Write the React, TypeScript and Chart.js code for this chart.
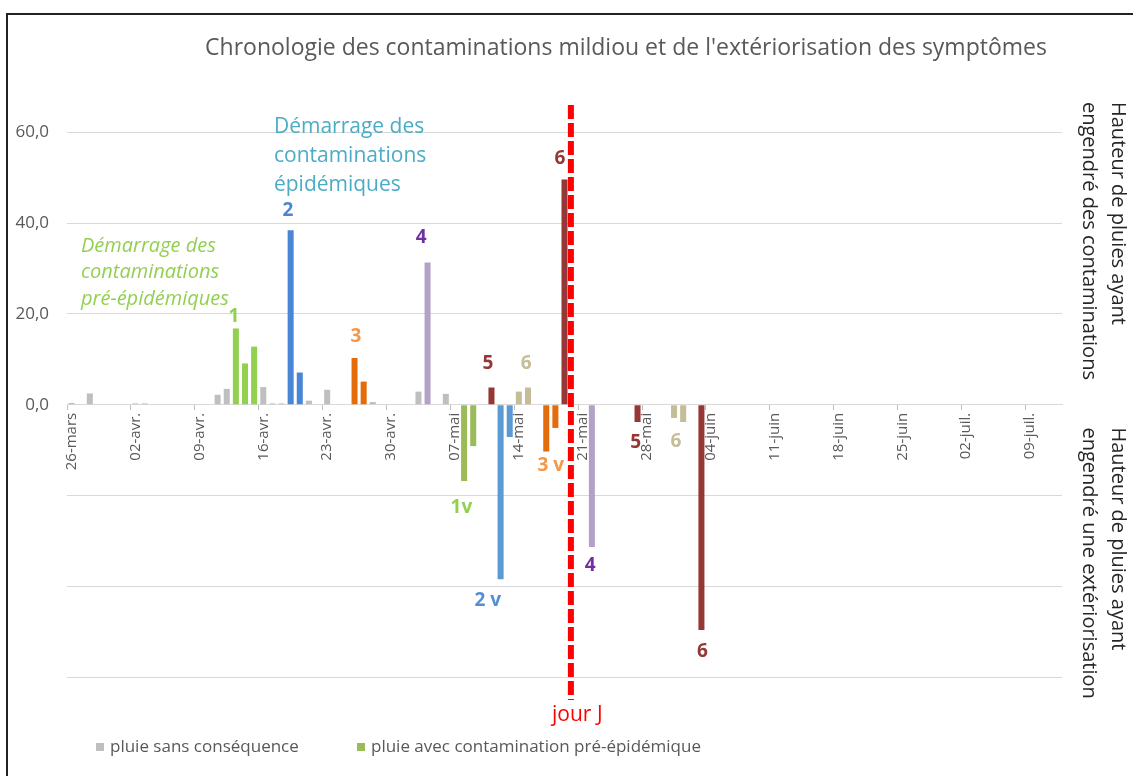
import React, { useEffect, useRef } from 'react';
import { Chart, registerables } from 'chart.js';

Chart.register(...registerables);

// ---------- categories (days from 26 March to 12 July) ----------
const monthNames = ['mars', 'avr.', 'mai', 'juin', 'juil.'];
const monthLengths = [31, 30, 31, 30, 31];
const firstDay = 26;
const dayCount = 109;

function buildCategories(): string[] {
  const out: string[] = [];
  let m = 0;
  let d = firstDay;
  for (let i = 0; i < dayCount; i++) {
    out.push(String(d).padStart(2, '0') + '-' + monthNames[m]);
    d++;
    if (d > monthLengths[m]) {
      d = 1;
      m++;
    }
  }
  return out;
}
const categories = buildCategories();

// ---------- series (rain height, mm) ----------
const grayDates = ['26-mars', '28-mars', '02-avr.', '03-avr.', '11-avr.', '12-avr.', '16-avr.', '17-avr.', '18-avr.', '21-avr.', '23-avr.', '28-avr.', '03-mai', '06-mai'];
const grayValues = [0.4, 2.5, 0.3, 0.3, 2.2, 3.5, 3.9, 0.3, 0.3, 0.9, 3.3, 0.6, 2.9, 2.4];

const green1Dates = ['13-avr.', '14-avr.', '15-avr.'];
const green1Values = [16.8, 9.1, 12.8];
const blue2Dates = ['19-avr.', '20-avr.'];
const blue2Values = [38.4, 7.1];
const orange3Dates = ['26-avr.', '27-avr.'];
const orange3Values = [10.3, 5.1];
const purple4Dates = ['04-mai'];
const purple4Values = [31.3];
const red5Dates = ['11-mai'];
const red5Values = [3.8];
const tan6Dates = ['14-mai', '15-mai'];
const tan6Values = [2.9, 3.8];
const red6Dates = ['19-mai'];
const red6Values = [49.6];

// extériorisation (negative side)
const green1vDates = ['08-mai', '09-mai'];
const green1vValues = [-16.8, -9.1];
const blue2vDates = ['12-mai', '13-mai'];
const blue2vValues = [-38.4, -7.1];
const orange3vDates = ['17-mai', '18-mai'];
const orange3vValues = [-10.3, -5.1];
const purple4vDates = ['22-mai'];
const purple4vValues = [-31.3];
const red5vDates = ['27-mai'];
const red5vValues = [-3.8];
const tan6vDates = ['31-mai', '01-juin'];
const tan6vValues = [-2.9, -3.8];
const red6vDates = ['03-juin'];
const red6vValues = [-49.6];

// ---------- annotations ----------
const markerTexts = ['1', '2', '3', '4', '5', '6', '6', '1v', '2 v', '3 v', '4', '5', '6', '6'];
const markerIndex = [17.8, 23.7, 31.15, 38.3, 45.6, 49.8, 53.5, 42.7, 45.6, 52.5, 56.8, 61.8, 66.2, 69.1];
const markerValue = [19.4, 42.7, 15.0, 36.8, 9.1, 9.1, 54.1, -22.7, -43.2, -13.5, -35.5, -8.4, -8.2, -54.3];
const markerColors = ['#92d050', '#4a86d6', '#f79646', '#7030a0', '#953735', '#c4bd97', '#953735', '#92d050', '#558ed5', '#f79646', '#7030a0', '#953735', '#c4bd97', '#953735'];

const preEpiLines = ['Démarrage des', 'contaminations', 'pré-épidémiques'];
const preEpiIndex = 1.03;
const preEpiValues = [34.85, 29.1, 23.2];
const epiLines = ['Démarrage des', 'contaminations', 'épidémiques'];
const epiIndex = 22.17;
const epiValues = [61.1, 54.7, 48.3];

const jourJIndex = 54.7;
const jourJLabelIndex = 55.4;
const jourJLabelValue = -68.2;

const titleText = "Chronologie des contaminations mildiou et de l'extériorisation des symptômes";
const rightTitleTop = ['Hauteur de pluies ayant', 'engendré des contaminations'];
const rightTitleBottom = ['Hauteur de pluies ayant', 'engendré une extériorisation'];
const legendLabels = ['pluie sans conséquence', 'pluie avec contamination pré-épidémique'];
const legendColors = ['#bfbfbf', '#9bbb59'];

const yTicks = [-60, -40, -20, 0, 20, 40, 60];

function toData(dates: string[], values: number[]): (number | null)[] {
  return categories.map((c) => {
    const k = dates.indexOf(c);
    return k >= 0 ? values[k] : null;
  });
}

const FONT = '"Open Sans", "Noto Sans", sans-serif';

const annotationPlugin = {
  id: 'annotations',
  afterDraw(chart: any) {
    const { ctx, chartArea } = chart;
    const x = chart.scales.x;
    const y = chart.scales.y;
    ctx.save();

    // title
    ctx.fillStyle = '#595959';
    ctx.font = `23px ${FONT}`;
    ctx.textAlign = 'center';
    ctx.textBaseline = 'middle';
    ctx.fillText(titleText, 626, 48);

    // jour J dashed line
    const jx = x.getPixelForValue(jourJIndex);
    ctx.strokeStyle = '#ff0000';
    ctx.lineWidth = 6;
    ctx.setLineDash([14, 4]);
    ctx.beginPath();
    ctx.moveTo(jx, chartArea.top);
    ctx.lineTo(jx, chartArea.bottom);
    ctx.stroke();
    ctx.setLineDash([]);

    ctx.fillStyle = '#ff0000';
    ctx.font = `21px ${FONT}`;
    ctx.fillText('jour J', x.getPixelForValue(jourJLabelIndex), y.getPixelForValue(jourJLabelValue));

    // bar markers
    ctx.font = `bold 19px ${FONT}`;
    markerTexts.forEach((t, i) => {
      ctx.fillStyle = markerColors[i];
      ctx.fillText(t, x.getPixelForValue(markerIndex[i]), y.getPixelForValue(markerValue[i]));
    });

    // annotation blocks
    ctx.textAlign = 'left';
    ctx.fillStyle = '#92d050';
    ctx.font = `italic 20px ${FONT}`;
    preEpiLines.forEach((t, i) => {
      ctx.fillText(t, x.getPixelForValue(preEpiIndex), y.getPixelForValue(preEpiValues[i]));
    });
    ctx.fillStyle = '#4bacc6';
    ctx.font = `21px ${FONT}`;
    epiLines.forEach((t, i) => {
      ctx.fillText(t, x.getPixelForValue(epiIndex), y.getPixelForValue(epiValues[i]));
    });

    // right side titles (rotated)
    ctx.fillStyle = '#262626';
    ctx.font = `20px ${FONT}`;
    const drawRot = (lines: string[], top: number) => {
      lines.forEach((t, i) => {
        ctx.save();
        ctx.translate(chartArea.right + 56 - i * 29, top);
        ctx.rotate(Math.PI / 2);
        ctx.textAlign = 'left';
        ctx.textBaseline = 'middle';
        ctx.fillText(t, 0, 0);
        ctx.restore();
      });
    };
    drawRot(rightTitleTop, chartArea.top - 3);
    drawRot(rightTitleBottom, y.getPixelForValue(-5));

    // legend
    ctx.font = `17px ${FONT}`;
    ctx.textBaseline = 'middle';
    const legendX = [96, 357];
    const legendY = 747;
    legendLabels.forEach((t, i) => {
      ctx.fillStyle = legendColors[i];
      ctx.fillRect(legendX[i], legendY - 4, 8, 8);
      ctx.fillStyle = '#595959';
      ctx.fillText(t, legendX[i] + 14, legendY);
    });

    ctx.restore();
  },
};

export default function App() {
  const ref = useRef<HTMLCanvasElement>(null);

  useEffect(() => {
    const ds = (label: string, dates: string[], values: number[], color: string) => ({
      label,
      data: toData(dates, values),
      backgroundColor: color,
      borderWidth: 0,
    });
    const chart = new Chart(ref.current as HTMLCanvasElement, {
      type: 'bar',
      data: {
        labels: categories,
        datasets: [
          ds('pluie sans conséquence', grayDates, grayValues, '#bfbfbf'),
          ds('pluie avec contamination pré-épidémique', green1Dates, green1Values, '#92d050'),
          ds('contamination 2', blue2Dates, blue2Values, '#4a86d6'),
          ds('contamination 3', orange3Dates, orange3Values, '#e46c0a'),
          ds('contamination 4', purple4Dates, purple4Values, '#b3a2c7'),
          ds('contamination 5', red5Dates, red5Values, '#953735'),
          ds('contamination 6a', tan6Dates, tan6Values, '#c4bd97'),
          ds('contamination 6', red6Dates, red6Values, '#953735'),
          ds('extériorisation 1', green1vDates, green1vValues, '#9bbb59'),
          ds('extériorisation 2', blue2vDates, blue2vValues, '#5b9bd5'),
          ds('extériorisation 3', orange3vDates, orange3vValues, '#e46c0a'),
          ds('extériorisation 4', purple4vDates, purple4vValues, '#b3a2c7'),
          ds('extériorisation 5', red5vDates, red5vValues, '#953735'),
          ds('extériorisation 6a', tan6vDates, tan6vValues, '#c4bd97'),
          ds('extériorisation 6', red6vDates, red6vValues, '#953735'),
        ],
      },
      options: {
        responsive: false,
        maintainAspectRatio: false,
        animation: false,
        devicePixelRatio: 1,
        layout: { padding: { left: 0, right: 71, top: 105, bottom: 76 } },
        datasets: { bar: { barPercentage: 0.66, categoryPercentage: 1 } },
        plugins: {
          legend: { display: false },
          title: { display: false },
          tooltip: { enabled: false },
        },
        scales: {
          x: {
            type: 'category',
            stacked: true,
            position: { y: 0 } as any,
            offset: true,
            grid: {
              drawOnChartArea: false,
              offset: true,
              tickLength: 5,
              tickColor: (c: any) => (c.index !== undefined && c.index % 7 === 0 ? '#bfbfbf' : 'rgba(0,0,0,0)'),
            },
            border: { color: '#d9d9d9' },
            ticks: {
              autoSkip: false,
              maxRotation: 90,
              minRotation: 90,
              padding: 3,
              color: '#595959',
              font: { family: FONT, size: 15 },
              callback: (_v: any, i: number) => (i % 7 === 0 ? categories[i] : ''),
            },
          },
          y: {
            stacked: true,
            min: -65,
            max: 66,
            afterFit: (s: any) => {
              s.width = 67;
            },
            afterBuildTicks: (s: any) => {
              s.ticks = yTicks.map((v) => ({ value: v }));
            },
            grid: { color: '#d9d9d9', drawTicks: false },
            border: { display: false },
            ticks: {
              padding: 18,
              color: '#595959',
              font: { family: FONT, size: 17 },
              callback: (v: any) => (v >= 0 ? Number(v).toFixed(1).replace('.', ',') : ''),
            },
          },
        },
      },
      plugins: [annotationPlugin],
    } as any);
    return () => chart.destroy();
  }, []);

  return (
    <div style={{ position: 'absolute', left: 0, top: 0, width: 1133, height: 776, overflow: 'hidden', background: '#ffffff' }}>
      <div
        style={{
          position: 'absolute',
          left: 6,
          top: 13,
          width: 1140,
          height: 800,
          borderTop: '2px solid #222',
          borderLeft: '2px solid #222',
        }}
      />
      <canvas ref={ref} width={1133} height={776} style={{ position: 'absolute', left: 0, top: 0 }} />
    </div>
  );
}
